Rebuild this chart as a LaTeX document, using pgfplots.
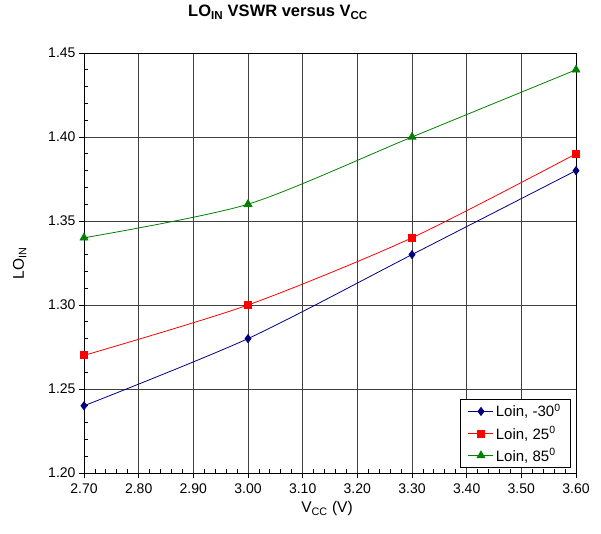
\documentclass[border=0pt]{standalone}
\usepackage{pgfplots}
\pgfplotsset{compat=1.18}
\usepackage{fontspec}
\setmainfont{Liberation Sans}
\definecolor{cneg}{RGB}{0,0,128}
\definecolor{cred}{RGB}{255,0,0}
\definecolor{cgreen}{RGB}{0,128,0}
\begin{document}
\begin{tikzpicture}
\begin{axis}[
  scale only axis, width=492pt, height=420pt,
  xmin=2.7, xmax=3.6, ymin=1.2, ymax=1.45,
  xtick={2.7,2.8,2.9,3.0,3.1,3.2,3.3,3.4,3.5,3.6},
  ytick={1.20,1.25,1.30,1.35,1.40,1.45},
  minor x tick num=4, minor y tick num=4,
  xtick pos=bottom, ytick pos=left,
  tick align=outside,
  major tick length=5pt, minor tick length=4pt,
  minor x tick style={yshift=4pt},
  minor y tick style={xshift=4pt},
  tick style={black, line width=0.8pt},
  grid=major, major grid style={black!75, line width=0.9pt},
  axis line style={black, line width=0.9pt},
  /pgf/number format/assume math mode=true,
  /pgf/number format/.cd, fixed, fixed zerofill, precision=2, /pgfplots/.cd,
  ticklabel style={font=\fontsize{14}{16}\selectfont},
  xticklabel style={yshift=-2pt},
  title={\textbf{LO\textsubscript{IN} VSWR versus V\textsubscript{CC}}},
  title style={font=\fontsize{16.5}{18}\selectfont, anchor=base, at={(axis description cs:0.5,1)}, yshift=30pt, xshift=-52pt},
  xlabel={V\textsubscript{CC} (V)},
  ylabel={LO\textsubscript{IN}},
  label style={font=\fontsize{15.5}{17}\selectfont},
  xlabel style={yshift=-1pt, xshift=-3pt},
  ylabel style={yshift=15pt},
  legend style={at={(1,0)}, anchor=south east, xshift=-5pt, yshift=5pt, draw=black, line width=0.8pt,
    font=\fontsize{15}{17}\selectfont, row sep=4pt, inner xsep=8pt, inner ysep=3pt},
  legend cell align=left,
  legend image code/.code={\draw[mark repeat=2,mark phase=2] plot coordinates {(0pt,0pt) (12.5pt,0pt) (25pt,0pt)};},
]
\addplot[cneg, line width=0.8pt, smooth, tension=0.45, mark=diamond*, mark size=4pt, mark options={fill=cneg, solid}]
  coordinates {(2.7,1.24) (3.0,1.28) (3.3,1.33) (3.6,1.38)};
\addlegendentry{Loin, -30\textsuperscript{0}}
\addplot[cred, line width=0.8pt, smooth, tension=0.45, mark=square*, mark size=3.5pt, mark options={fill=cred, solid}]
  coordinates {(2.7,1.27) (3.0,1.30) (3.3,1.34) (3.6,1.39)};
\addlegendentry{Loin, 25\textsuperscript{0}}
\addplot[cgreen, line width=0.8pt, smooth, tension=0.45, mark=triangle*, mark size=4.5pt, mark options={fill=cgreen, solid}]
  coordinates {(2.7,1.34) (3.0,1.36) (3.3,1.40) (3.6,1.44)};
\addlegendentry{Loin, 85\textsuperscript{0}}
\end{axis}
\pgfresetboundingbox
\path ([shift={(-84pt,-61pt)}]current axis.south west) rectangle ([shift={(25pt,53pt)}]current axis.north east);
\end{tikzpicture}
\end{document}
